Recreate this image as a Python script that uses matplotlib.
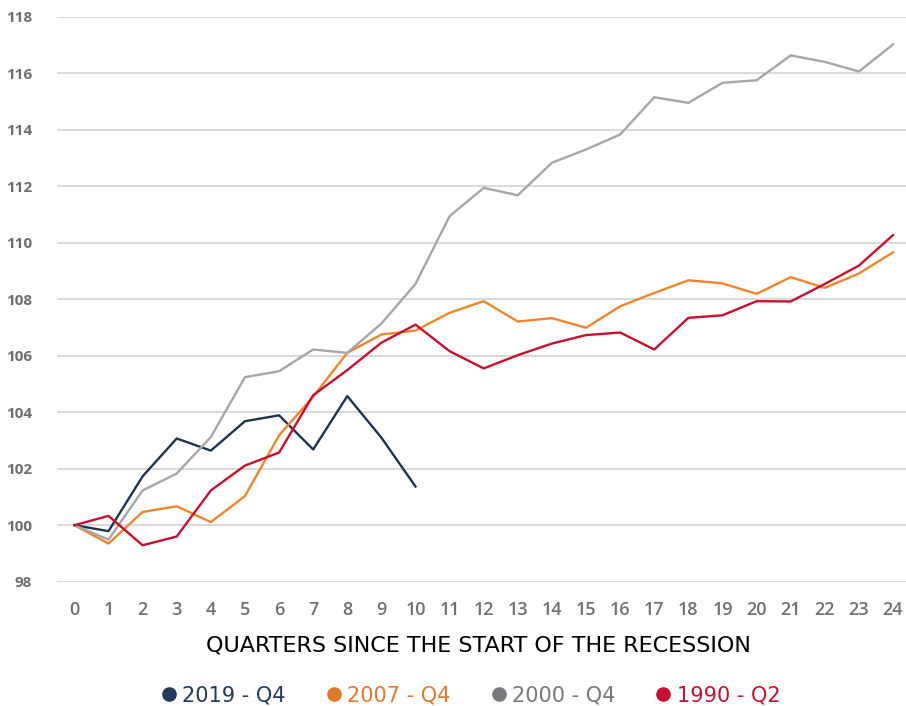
import numpy as np
import matplotlib.pyplot as plt
from matplotlib.lines import Line2D

quarters = list(range(25))

s2019 = [100.0, 99.79, 101.73, 103.07, 102.64, 103.68, 103.89, 102.68, 104.57, 103.10, 101.37]
s2007 = [100.0, 99.35, 100.47, 100.67, 100.11, 101.03, 103.18, 104.55, 106.10, 106.75, 106.89,
         107.52, 107.93, 107.21, 107.33, 106.99, 107.75, 108.22, 108.67, 108.56, 108.19,
         108.78, 108.40, 108.91, 109.66]
s2000 = [100.0, 99.49, 101.23, 101.83, 103.12, 105.24, 105.45, 106.22, 106.10, 107.14, 108.54,
         110.94, 111.94, 111.68, 112.83, 113.30, 113.83, 115.15, 114.95, 115.66, 115.75,
         116.63, 116.40, 116.06, 117.02]
s1990 = [100.0, 100.33, 99.29, 99.60, 101.23, 102.11, 102.57, 104.60, 105.49, 106.46, 107.10,
         106.16, 105.55, 106.02, 106.43, 106.73, 106.82, 106.22, 107.34, 107.43, 107.93,
         107.92, 108.54, 109.19, 110.27]

series = [
  ("2019 - Q4", s2019, "#1f3350", "#25395a"),
  ("2007 - Q4", s2007, "#f0852d", "#e0782f"),
  ("2000 - Q4", s2000, "#a6a6a6", "#76787b"),
  ("1990 - Q2", s1990, "#c8102e", "#c41230"),
]

plt.rcParams['font.family'] = ['Open Sans', 'DejaVu Sans']

fig = plt.figure(figsize=(9.06, 7.06), dpi=100)
ax = fig.add_axes([57/906, 1 - 581.7/706, 849/906, 565/706])

for name, vals, col, tcol in series:
  ax.plot(quarters[:len(vals)], vals, color=col, lw=1.7, zorder=3)

ax.set_xlim(-0.51, 24.38)
ax.set_ylim(98, 118)
ax.set_yticks(range(98, 119, 2))
ax.set_xticks(quarters)
ax.grid(axis='y', color='#d9d9d9', lw=1.4)
ax.set_axisbelow(True)
for s in ax.spines.values():
  s.set_visible(False)
ax.tick_params(axis='both', length=0)
ax.tick_params(axis='y', pad=18, labelsize=11, labelcolor='#6e6e6e')
ax.tick_params(axis='x', pad=14, labelsize=13, labelcolor='#707070')
for lab in ax.get_yticklabels():
  lab.set_fontweight('bold')
for lab in ax.get_xticklabels():
  lab.set_fontweight('semibold')

fig.text(478.5/906, 1 - 645/706, "QUARTERS SINCE THE START OF THE RECESSION",
         ha='center', va='center', fontsize=16, color='black', family='DejaVu Sans')

handles = [Line2D([], [], ls='none', marker='o', markersize=9.5, color=tc) for _, _, _, tc in series]
leg = fig.legend(handles, [n for n, _, _, _ in series], loc='center',
                 bbox_to_anchor=(469.5/906, 1 - 695/706), ncol=4, frameon=False,
                 prop={'family': 'DejaVu Sans', 'size': 15}, handletextpad=0.15,
                 columnspacing=1.8, handlelength=1.0,
                 labelcolor=[tc for _, _, _, tc in series])

fig.savefig("out.png", dpi=100)
